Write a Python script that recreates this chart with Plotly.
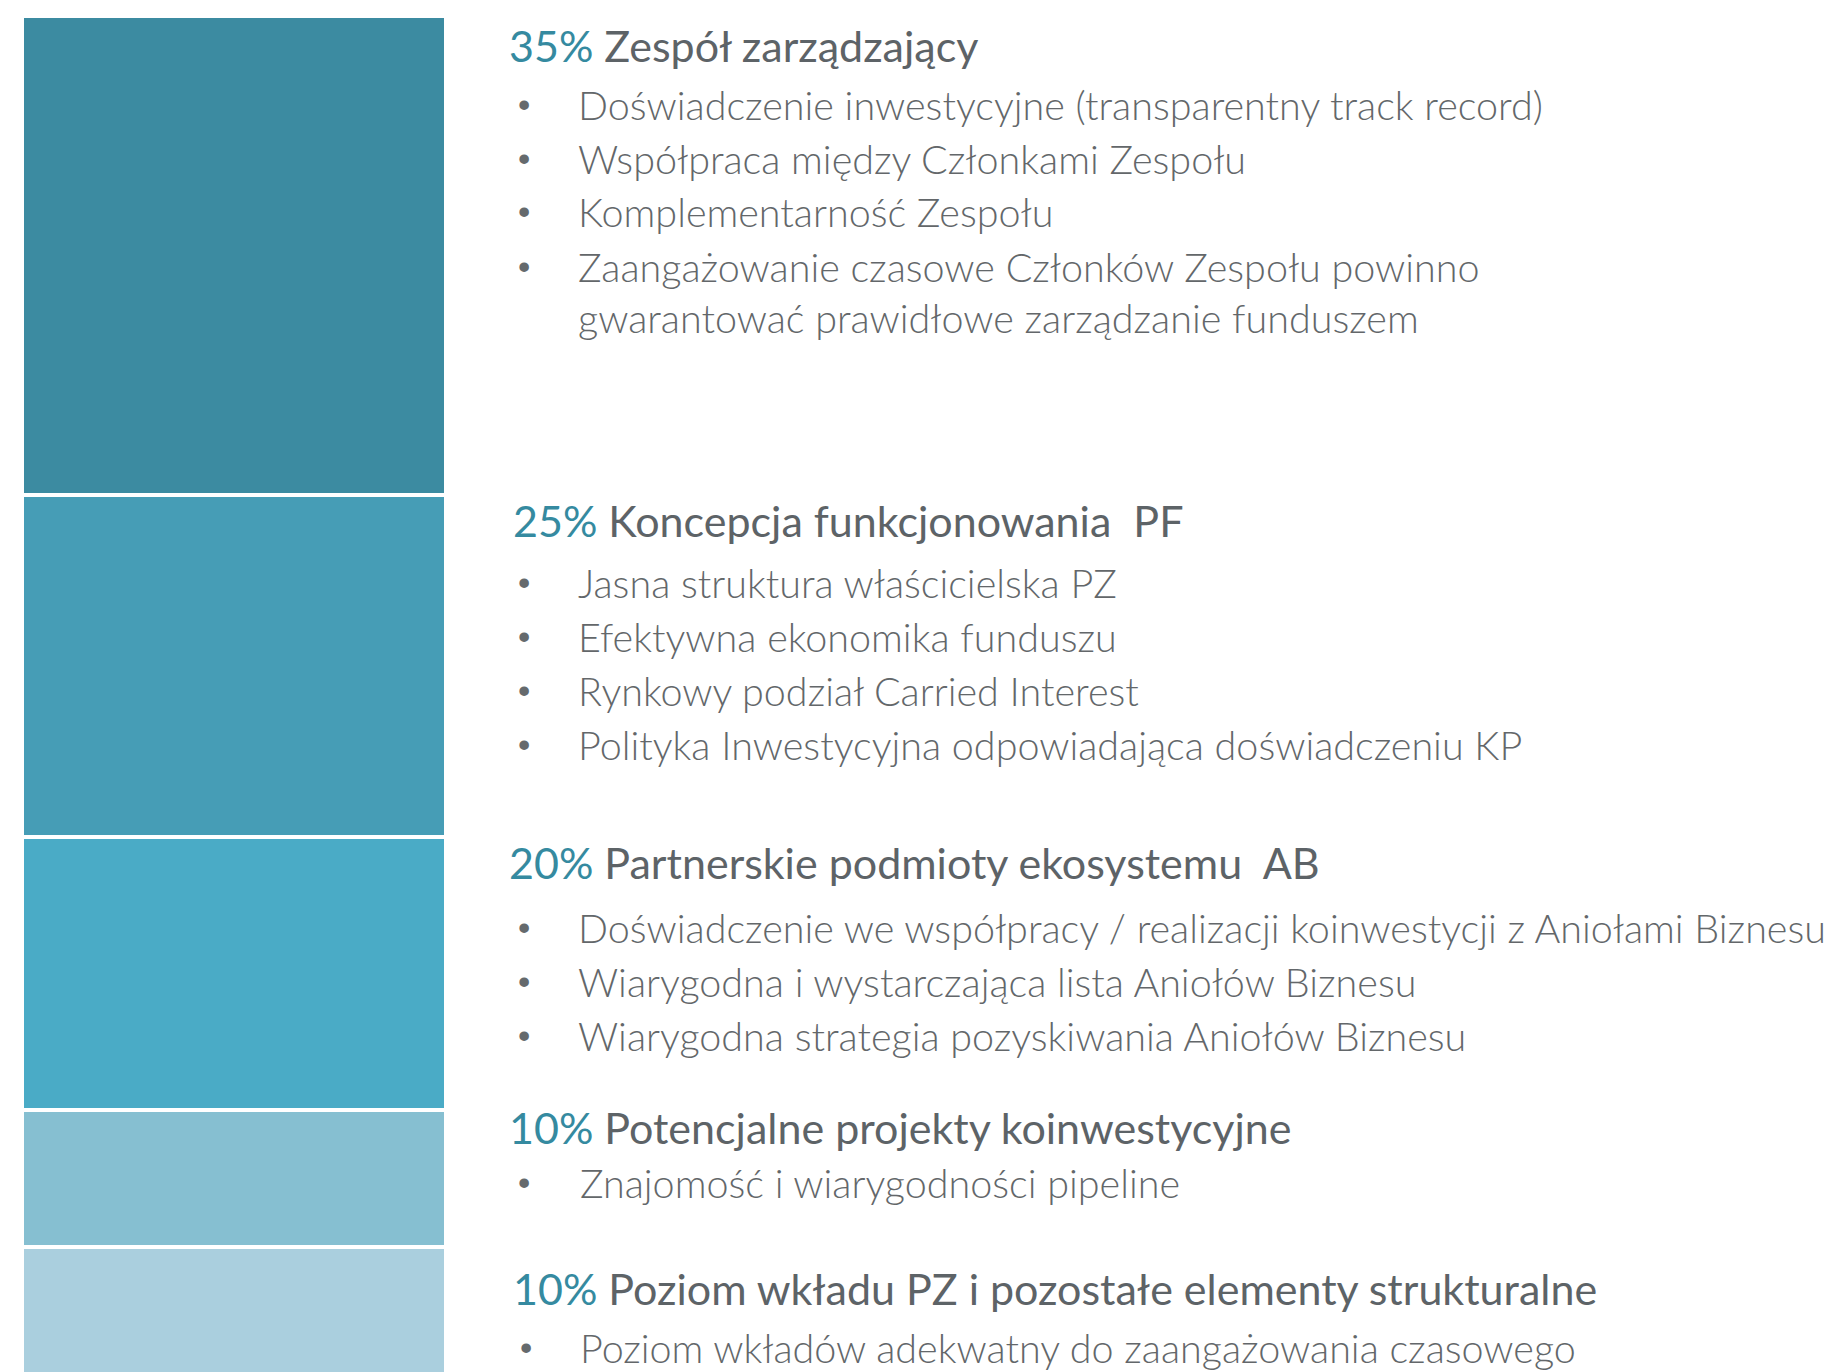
import plotly.graph_objects as go

# ---------------- data ----------------
percent_labels = ["35%", "25%", "20%", "10%", "10%"]
weights = [35, 25, 20, 10, 10]
categories = [
    "Zespół zarządzający",
    "Koncepcja funkcjonowania  PF",
    "Partnerskie podmioty ekosystemu  AB",
    "Potencjalne projekty koinwestycyjne",
    "Poziom wkładu PZ i pozostałe elementy strukturalne",
]
bullets = [
    [
        "Doświadczenie inwestycyjne (transparentny track record)",
        "Współpraca między Członkami Zespołu",
        "Komplementarność Zespołu",
        "Zaangażowanie czasowe Członków Zespołu powinno",
        "gwarantować prawidłowe zarządzanie funduszem",
    ],
    [
        "Jasna struktura właścicielska PZ",
        "Efektywna ekonomika funduszu",
        "Rynkowy podział Carried Interest",
        "Polityka Inwestycyjna odpowiadająca doświadczeniu KP",
    ],
    [
        "Doświadczenie we współpracy / realizacji koinwestycji z Aniołami Biznesu",
        "Wiarygodna i wystarczająca lista Aniołów Biznesu",
        "Wiarygodna strategia pozyskiwania Aniołów Biznesu",
    ],
    ["Znajomość i wiarygodności pipeline"],
    ["Poziom wkładów adekwatny do zaangażowania czasowego"],
]
# which bullet lines are continuation lines (no bullet dot)
continuation = [[False, False, False, False, True], [False] * 4, [False] * 3, [False], [False]]

# ---------------- style / layout ----------------
OFF = 8  # page body margin
W, H = 1837 - OFF, 1372 - OFF
bar_colors = ["#3c8ba1", "#469db6", "#4aabc6", "#86bfd1", "#aacfde"]
TEAL = "#358aa0"
HEAD_GRAY = "#5d6367"
TEXT_GRAY = "#63676a"
FONT = "Lato"

PX_PER_UNIT = 13.68
TOP_PX = 16 - OFF
y_range = [(H - TOP_PX) / PX_PER_UNIT, -TOP_PX / PX_PER_UNIT]

head_y_px = [46, 520, 862, 1127, 1288]
head_x_px = [507, 511, 507, 507, 511]
bullet_y_px = [
    [104.5, 158, 212, 266, 317.5],
    [582.5, 636, 690, 744],
    [927.5, 981.5, 1035.5],
    [1182],
    [1347.5],
]
dot_x_px = [524, 524, 524, 524, 526]
text_x_px = [576, 576, 576, 578, 578]


def py(px):
    return 1 - (px - OFF) / H


def pxx(px):
    return (px - OFF) / W


fig = go.Figure()
for i, (cat, w) in enumerate(zip(categories, weights)):
    fig.add_trace(
        go.Bar(
            x=["kryteria"],
            y=[w],
            name=cat,
            marker=dict(color=bar_colors[i], line=dict(color="white", width=4)),
            hoverinfo="skip",
            showlegend=False,
        )
    )

annotations = []
for i in range(len(categories)):
    annotations.append(
        dict(
            xref="paper", yref="paper",
            x=pxx(head_x_px[i]), y=py(head_y_px[i]),
            xanchor="left", yanchor="middle",
            text=f"<span style='color:{TEAL}'>{percent_labels[i]}</span> {categories[i]}",
            showarrow=False,
            font=dict(family=FONT, size=43, color=HEAD_GRAY),
        )
    )
    for j, line in enumerate(bullets[i]):
        yy = py(bullet_y_px[i][j])
        if not continuation[i][j]:
            annotations.append(
                dict(
                    xref="paper", yref="paper",
                    x=pxx(dot_x_px[i]), y=yy,
                    xanchor="center", yanchor="middle",
                    text="•", showarrow=False,
                    font=dict(family="Arial", size=35, color="#656a6d"),
                )
            )
        annotations.append(
            dict(
                xref="paper", yref="paper",
                x=pxx(text_x_px[i]), y=yy,
                xanchor="left", yanchor="middle",
                text=line, showarrow=False,
                font=dict(family=FONT, size=39.5, color=TEXT_GRAY, weight=300),
            )
        )

fig.update_layout(
    width=W, height=H,
    margin=dict(l=0, r=0, t=0, b=0),
    paper_bgcolor="white", plot_bgcolor="white",
    barmode="stack", bargap=0,
    xaxis=dict(domain=[(22 - OFF) / W, (446 - OFF) / W], visible=False, fixedrange=True),
    yaxis=dict(range=y_range, visible=False, fixedrange=True),
    annotations=annotations,
)

fig.write_html("out.html")
